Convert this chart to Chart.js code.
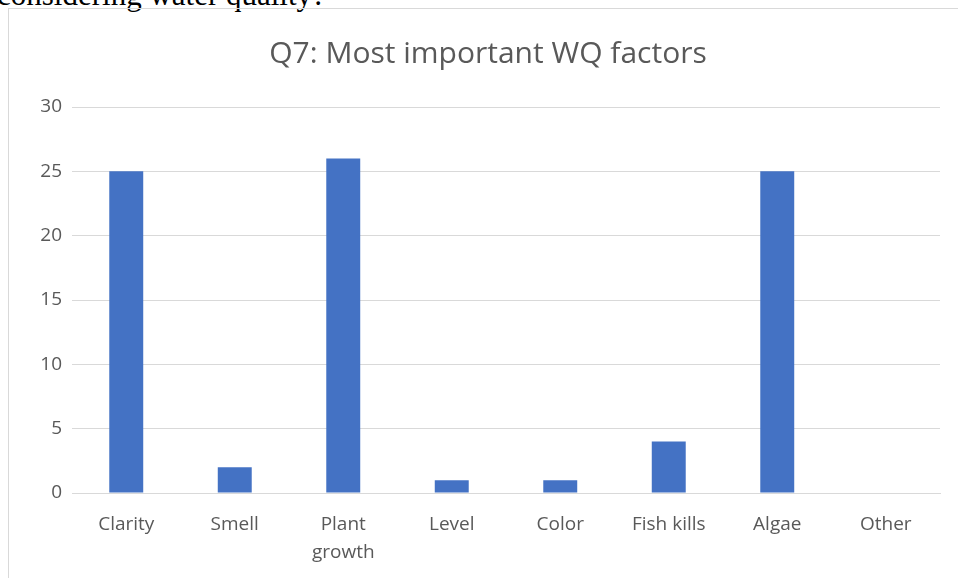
<!DOCTYPE html>
<html>
<head>
<meta charset="utf-8">
<script src="https://cdn.jsdelivr.net/npm/chart.js@4/dist/chart.umd.min.js"></script>
<style>
    html, body { margin: 0; padding: 0; background: #fff; }
    body { width: 958px; height: 578px; position: relative; overflow: hidden; }
    #caption {
        position: absolute; left: -3px; top: -21px; line-height: 31px;
        font-family: "Liberation Serif", "DejaVu Serif", serif; font-size: 31px; color: #000;
        white-space: nowrap;
    }
    #frame {
        position: absolute; left: 8px; top: 8px; width: 960px; height: 600px;
        border: 1px solid #d9d9d9; box-sizing: border-box;
    }
    #wrap { position: absolute; left: 0; top: 0; width: 958px; height: 578px; }
</style>
</head>
<body>
<div id="caption">considering water quality?</div>
<div id="frame"></div>
<div id="wrap"><canvas id="chart"></canvas></div>
<script>
    /*global Chart*/
    (function () {
        "use strict";

        var categories = ["Clarity", "Smell", ["Plant", "growth"], "Level", "Color", "Fish kills", "Algae", "Other"];
        var counts = [25, 2, 26, 1, 1, 4, 25, 0];
        var yTicks = [0, 5, 10, 15, 20, 25, 30];

        var textColor = "#595959",
            gridColor = "#d9d9d9",
            fontFamily = "'Open Sans', 'Noto Sans', sans-serif";

        var ctx = window.document.getElementById("chart");
        new Chart(ctx, {
            type: 'bar',
            data: {
                labels: categories,
                datasets: [{
                    label: "Q7",
                    data: counts,
                    backgroundColor: "#4472C4",
                    borderWidth: 0,
                    categoryPercentage: 1,
                    barPercentage: 0.313
                }]
            },
            options: {
                responsive: true,
                maintainAspectRatio: false,
                animation: false,
                // left padding keeps the title centred on the frame, like the original
                layout: { padding: { left: 18, right: 0, top: 0, bottom: 0 } },
                plugins: {
                    legend: { display: false },
                    tooltip: { enabled: false },
                    title: {
                        display: true,
                        text: "Q7: Most important WQ factors",
                        color: textColor,
                        font: { family: fontFamily, size: 30, weight: 'normal', lineHeight: 1.2 },
                        padding: { top: 36, bottom: 35 }
                    }
                },
                scales: {
                    x: {
                        grid: { display: false, drawTicks: false },
                        border: { display: true, color: gridColor, width: 1 },
                        ticks: {
                            color: textColor,
                            font: { family: fontFamily, size: 19, lineHeight: 1.5 },
                            padding: 17,
                            maxRotation: 0,
                            autoSkip: false
                        },
                        afterFit: function (scale) { scale.height = 85; }
                    },
                    y: {
                        min: 0,
                        max: 30,
                        afterBuildTicks: function (scale) {
                            scale.ticks = yTicks.map(function (v) { return { value: v }; });
                        },
                        grid: { color: gridColor, lineWidth: 1, drawTicks: false },
                        border: { display: false },
                        ticks: {
                            color: textColor,
                            font: { family: fontFamily, size: 19 },
                            padding: 10
                        },
                        afterFit: function (scale) { scale.width = 54; }
                    },
                    // empty right-hand spacer so the plot ends where the original does
                    spacer: {
                        type: 'linear',
                        position: 'right',
                        grid: { display: false, drawTicks: false },
                        border: { display: false },
                        ticks: { display: false },
                        afterFit: function (scale) { scale.width = 18; }
                    }
                }
            }
        });
    }());
</script>
</body>
</html>
